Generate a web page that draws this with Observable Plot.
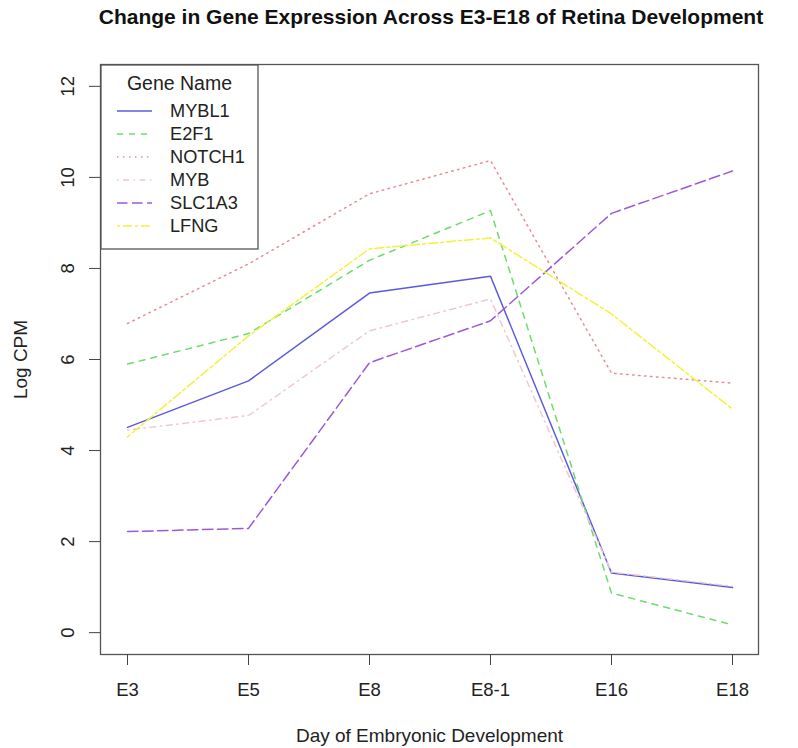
<!DOCTYPE html>
<html>
<head>
<meta charset="utf-8">
<script src="https://cdn.jsdelivr.net/npm/d3@7"></script>
<script src="https://cdn.jsdelivr.net/npm/@observablehq/plot@0.6"></script>
<style>
  html, body { margin: 0; padding: 0; background: #fff; }
  #wrap { position: relative; width: 798px; height: 748px; font-family: "Liberation Sans", Arial, Helvetica, sans-serif; }
  #title { position: absolute; left: 0; top: 5px; width: 862px; text-align: center;
           font-weight: bold; font-size: 21px; color: #111; white-space: nowrap; }
  #legend { position: absolute; left: 0; top: 0; }
</style>
</head>
<body>
<div id="wrap">
  <div id="chart"></div>
  <div id="title"></div>
</div>
<script>
// Timepoints and log-CPM expression for each gene
const days = ["E3", "E5", "E8", "E8-1", "E16", "E18"];
const genes = ["MYBL1", "E2F1", "NOTCH1", "MYB", "SLC1A3", "LFNG"];
const mybl1  = [4.51, 5.53, 7.46, 7.83, 1.31, 0.99];
const e2f1   = [5.90, 6.57, 8.18, 9.27, 0.87, 0.17];
const notch1 = [6.79, 8.10, 9.64, 10.37, 5.70, 5.48];
const myb    = [4.45, 4.77, 6.63, 7.33, 1.33, 1.02];
const slc1a3 = [2.22, 2.29, 5.93, 6.85, 9.21, 10.14];
const lfng   = [4.30, 6.52, 8.43, 8.67, 7.00, 4.91];
const yTicks = [0, 2, 4, 6, 8, 10, 12];

const titleText = "Change in Gene Expression Across E3-E18 of Retina Development";
const xTitle = "Day of Embryonic Development";
const yTitle = "Log CPM";
const legendTitle = "Gene Name";

// Line styles (R-like lty patterns)
const colors = ["#5a5ae0", "#6ddc6d", "#e88a94", "#f0c8d0", "#9b59d9", "#f2f23a"];
const dashes = [null, "6,6", "1.5,4.5", "1.5,4.5,6,4.5", "10.5,4.5", "3,3,9,3"];

const seriesValues = [mybl1, e2f1, notch1, myb, slc1a3, lfng];
const rows = genes.flatMap((g, i) => seriesValues[i].map((v, j) => ({gene: g, day: days[j], value: v})));

const W = 798, H = 748;
const mL = 100, mR = 40, mT = 64, mB = 94;
const font = `"Liberation Sans", Arial, Helvetica, sans-serif`;
const fs = 18.5;

const plot = Plot.plot({
  width: W,
  height: H,
  marginLeft: mL, marginRight: mR, marginTop: mT, marginBottom: mB,
  style: {fontFamily: font, fontSize: fs + "px", color: "#222", background: "#fff"},
  x: {type: "point", domain: days, padding: 0.2},
  y: {domain: [-0.48, 12.48]},
  marks: [
    ...genes.map((g, i) => Plot.line(rows.filter(d => d.gene === g), {
      x: "day", y: "value",
      stroke: colors[i], strokeWidth: 1.5,
      strokeDasharray: dashes[i] || undefined
    })),
    Plot.frame({stroke: "#555", strokeWidth: 1.3}),
    Plot.axisX({tickSize: 11, tickPadding: 17, fontSize: fs, label: null, stroke: "#444"}),
    Plot.axisY({ticks: yTicks, tickSize: 11, tickFormat: () => "", label: null, stroke: "#444"}),
    Plot.text(yTicks, {
      y: d => d, text: d => String(d), frameAnchor: "left", dx: -32,
      rotate: -90, textAnchor: "middle", lineAnchor: "middle", fontSize: fs, fill: "#222"
    }),
    Plot.text([xTitle], {text: d => d, frameAnchor: "bottom", dy: 81, lineAnchor: "middle", fontSize: 19, fill: "#222"}),
    Plot.text([yTitle], {text: d => d, frameAnchor: "left", dx: -80, rotate: -90, textAnchor: "middle", lineAnchor: "middle", fontSize: 19, fill: "#222"})
  ]
});
document.getElementById("chart").appendChild(plot);
document.getElementById("title").textContent = titleText;

// Legend box in the upper-left corner of the panel
const leg = d3.select("#wrap").append("svg")
  .attr("id", "legend").attr("width", W).attr("height", H)
  .style("font-family", font);
const lx = 101, ly = 65, lw = 157, lh = 184, rowH = 23;
leg.append("rect").attr("x", lx).attr("y", ly).attr("width", lw).attr("height", lh)
  .attr("fill", "#fff").attr("stroke", "#555").attr("stroke-width", 1.3);
leg.append("text").attr("x", lx + lw / 2).attr("y", ly + 18).attr("dy", "0.35em")
  .attr("text-anchor", "middle").attr("font-size", 19.5).attr("fill", "#222").text(legendTitle);
genes.forEach((g, i) => {
  const yy = ly + 46 + i * rowH;
  leg.append("line").attr("x1", lx + 16).attr("x2", lx + 51).attr("y1", yy).attr("y2", yy)
    .attr("stroke", colors[i]).attr("stroke-width", 1.5)
    .attr("stroke-dasharray", dashes[i]);
  leg.append("text").attr("x", lx + 69).attr("y", yy).attr("dy", "0.35em")
    .attr("font-size", 18.2).attr("fill", "#222").text(g);
});
</script>
</body>
</html>
